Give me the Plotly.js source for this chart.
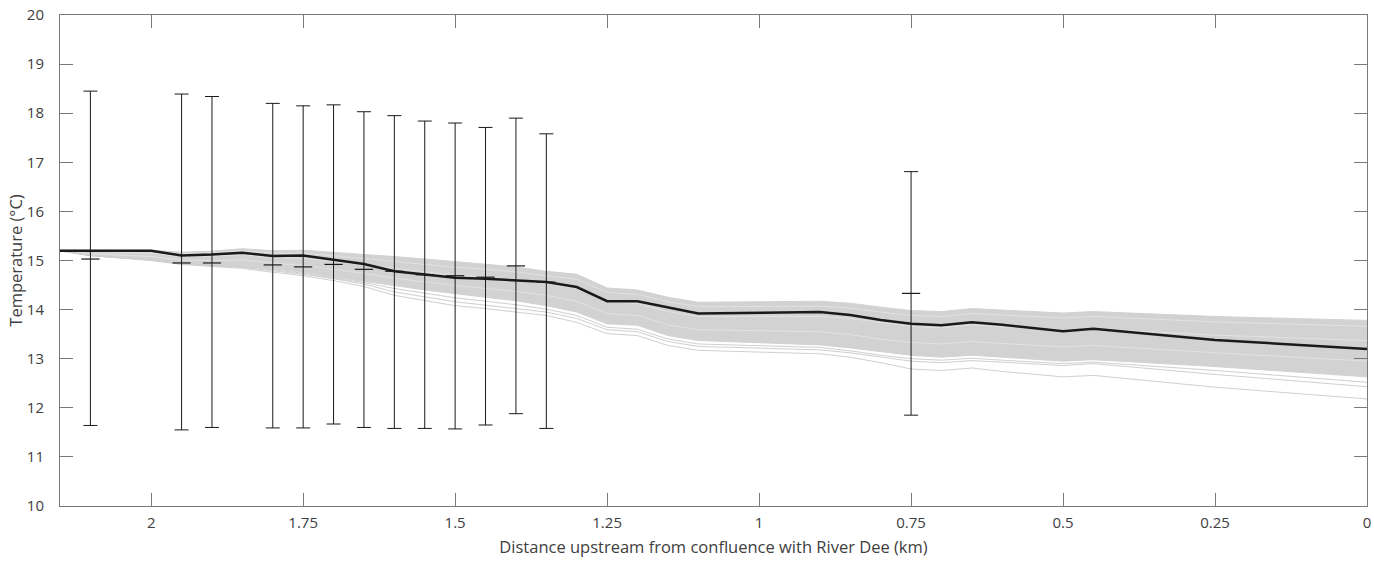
<!DOCTYPE html>
<html>
<head>
<meta charset="utf-8">
<script src="https://cdn.plot.ly/plotly-3.0.1.min.js"></script>
<style>html,body{margin:0;padding:0;background:#fff;}#chart{width:1374px;height:564px;}</style>
</head>
<body>
<div id="chart"></div>
<script>
// Distance upstream (km) at line vertices
const distKm = [2.15, 2.1, 2.0, 1.95, 1.9, 1.85, 1.8, 1.75, 1.7, 1.65, 1.6, 1.55, 1.5, 1.45, 1.4, 1.35, 1.3, 1.25, 1.2, 1.15, 1.1, 0.9, 0.85, 0.8, 0.75, 0.7, 0.65, 0.6, 0.5, 0.45, 0.25, 0];

// Mean modelled temperature (black line)
const meanTemp = [15.20, 15.20, 15.20, 15.10, 15.12, 15.16, 15.09, 15.10, 15.01, 14.93, 14.78, 14.71, 14.65, 14.63, 14.59, 14.56, 14.46, 14.17, 14.17, 14.04, 13.92, 13.95, 13.89, 13.79, 13.71, 13.68, 13.74, 13.69, 13.56, 13.61, 13.38, 13.20];

// Envelope of the ensemble of model runs (grey band)
const bandUpper = [15.21, 15.21, 15.21, 15.17, 15.19, 15.24, 15.20, 15.21, 15.17, 15.12, 15.08, 15.03, 14.98, 14.93, 14.87, 14.78, 14.72, 14.44, 14.40, 14.25, 14.15, 14.17, 14.13, 14.05, 13.98, 13.96, 14.02, 13.99, 13.93, 13.96, 13.86, 13.78];
const bandLower = [15.19, 15.10, 15.01, 14.93, 14.90, 14.88, 14.83, 14.76, 14.66, 14.58, 14.49, 14.40, 14.32, 14.25, 14.18, 14.08, 13.95, 13.71, 13.68, 13.47, 13.37, 13.28, 13.22, 13.14, 13.07, 13.03, 13.07, 13.03, 12.95, 12.98, 12.84, 12.63];

// Individual low ensemble runs
const runLow1 = [15.20, 15.10, 15.00, 14.92, 14.88, 14.84, 14.76, 14.69, 14.59, 14.47, 14.29, 14.19, 14.08, 14.02, 13.95, 13.88, 13.74, 13.51, 13.47, 13.27, 13.17, 13.10, 13.03, 12.92, 12.79, 12.76, 12.81, 12.74, 12.63, 12.66, 12.42, 12.18];
const runLow2 = [15.20, 15.10, 15.01, 14.93, 14.89, 14.86, 14.79, 14.72, 14.63, 14.52, 14.36, 14.26, 14.16, 14.09, 14.02, 13.95, 13.82, 13.59, 13.55, 13.35, 13.25, 13.18, 13.12, 13.03, 12.95, 12.92, 12.96, 12.93, 12.86, 12.90, 12.68, 12.43];
const runLow3 = [15.20, 15.10, 15.01, 14.93, 14.90, 14.87, 14.81, 14.74, 14.64, 14.55, 14.43, 14.33, 14.24, 14.17, 14.10, 14.01, 13.88, 13.64, 13.60, 13.40, 13.30, 13.23, 13.16, 13.07, 13.00, 12.97, 13.01, 12.97, 12.90, 12.93, 12.76, 12.52];
// Light streaks inside the band
const streakA = [15.20, 15.18, 15.15, 15.08, 15.09, 15.12, 15.06, 15.05, 14.98, 14.91, 14.83, 14.76, 14.70, 14.66, 14.61, 14.53, 14.43, 14.16, 14.12, 13.96, 13.86, 13.86, 13.82, 13.74, 13.66, 13.63, 13.69, 13.65, 13.58, 13.61, 13.48, 13.37];
const streakB = [15.20, 15.14, 15.08, 15.01, 15.00, 15.01, 14.95, 14.90, 14.82, 14.74, 14.64, 14.56, 14.49, 14.43, 14.37, 14.29, 14.17, 13.92, 13.88, 13.69, 13.59, 13.55, 13.49, 13.40, 13.33, 13.30, 13.35, 13.31, 13.24, 13.27, 13.12, 12.95];
const streakC = [15.21, 15.20, 15.19, 15.14, 15.16, 15.20, 15.15, 15.15, 15.10, 15.04, 14.98, 14.92, 14.86, 14.82, 14.77, 14.69, 14.62, 14.35, 14.31, 14.16, 14.06, 14.07, 14.03, 13.95, 13.88, 13.86, 13.92, 13.89, 13.83, 13.86, 13.75, 13.66];

// Observed temperatures at loggers (mean with min / max)
const obsKm  = [2.1, 1.95, 1.9, 1.8, 1.75, 1.7, 1.65, 1.6, 1.55, 1.5, 1.45, 1.4, 1.35, 0.75];
const obsMid = [15.03, 14.95, 14.95, 14.91, 14.87, 14.92, 14.82, 14.78, 14.71, 14.69, 14.66, 14.89, 14.56, 14.33];
const obsMax = [18.45, 18.39, 18.34, 18.20, 18.15, 18.17, 18.03, 17.95, 17.84, 17.80, 17.71, 17.90, 17.58, 16.81];
const obsMin = [11.64, 11.55, 11.60, 11.59, 11.59, 11.67, 11.60, 11.58, 11.58, 11.57, 11.65, 11.88, 11.58, 11.85];

// Axis ticks
const xTicks = [2, 1.75, 1.5, 1.25, 1, 0.75, 0.5, 0.25, 0];
const xTickText = ['2', '1.75', '1.5', '1.25', '1', '0.75', '0.5', '0.25', '0'];
const yTicks = [10, 11, 12, 13, 14, 15, 16, 17, 18, 19, 20];

const grey = '#d2d2d2';
const traces = [];
traces.push({x: distKm, y: bandLower, mode: 'lines', line: {color: grey, width: 1}, hoverinfo: 'skip', showlegend: false});
traces.push({x: distKm, y: bandUpper, mode: 'lines', fill: 'tonexty', fillcolor: grey, line: {color: grey, width: 1}, hoverinfo: 'skip', showlegend: false});
[streakA, streakB, streakC].forEach(s => traces.push({x: distKm, y: s, mode: 'lines', line: {color: '#e2e2e2', width: 1}, hoverinfo: 'skip', showlegend: false}));
[runLow1, runLow2, runLow3].forEach(s => traces.push({x: distKm, y: s, mode: 'lines', line: {color: '#cfcfcf', width: 1}, hoverinfo: 'skip', showlegend: false}));
traces.push({x: distKm, y: meanTemp, mode: 'lines', line: {color: '#1a1a1a', width: 2.5}, showlegend: false});
traces.push({
  x: obsKm, y: obsMid, mode: 'markers',
  marker: {symbol: 'line-ew', size: 13, color: '#1a1a1a', line: {color: '#1a1a1a', width: 1.2}},
  error_y: {type: 'data', symmetric: false,
    array: obsMax.map((v, i) => v - obsMid[i]),
    arrayminus: obsMid.map((v, i) => v - obsMin[i]),
    color: '#1a1a1a', thickness: 1, width: 7},
  showlegend: false
});

const fontFam = '"Open Sans", "Noto Sans", sans-serif';
const layout = {
  width: 1374, height: 564,
  margin: {l: 60, r: 7, t: 15, b: 58},
  paper_bgcolor: '#fff', plot_bgcolor: '#fff',
  font: {family: fontFam, size: 15, color: '#404040'},
  xaxis: {
    range: [2.15, 0], tickvals: xTicks, ticktext: xTickText,
    ticks: 'inside', ticklen: 13, tickwidth: 1, tickcolor: '#7a7a7a',
    showline: true, linecolor: '#7a7a7a', linewidth: 1, mirror: 'ticks',
    showgrid: false, zeroline: false, ticklabelstandoff: 3,
    tickfont: {family: fontFam, size: 15, color: '#404040'},
    title: {text: 'Distance upstream from confluence with River Dee (km)', font: {family: fontFam, size: 16.5, color: '#404040'}, standoff: 10}
  },
  yaxis: {
    range: [10, 20], tickvals: yTicks,
    ticks: 'inside', ticklen: 13, tickwidth: 1, tickcolor: '#7a7a7a',
    showline: true, linecolor: '#7a7a7a', linewidth: 1, mirror: 'ticks',
    showgrid: false, zeroline: false, ticklabelstandoff: 12,
    tickfont: {family: fontFam, size: 15, color: '#404040'},
    title: {text: 'Temperature (°C)', font: {family: fontFam, size: 16.5, color: '#404040'}, standoff: 0}
  }
};
Plotly.newPlot('chart', traces, layout, {displayModeBar: false, staticPlot: true});
</script>
</body>
</html>
